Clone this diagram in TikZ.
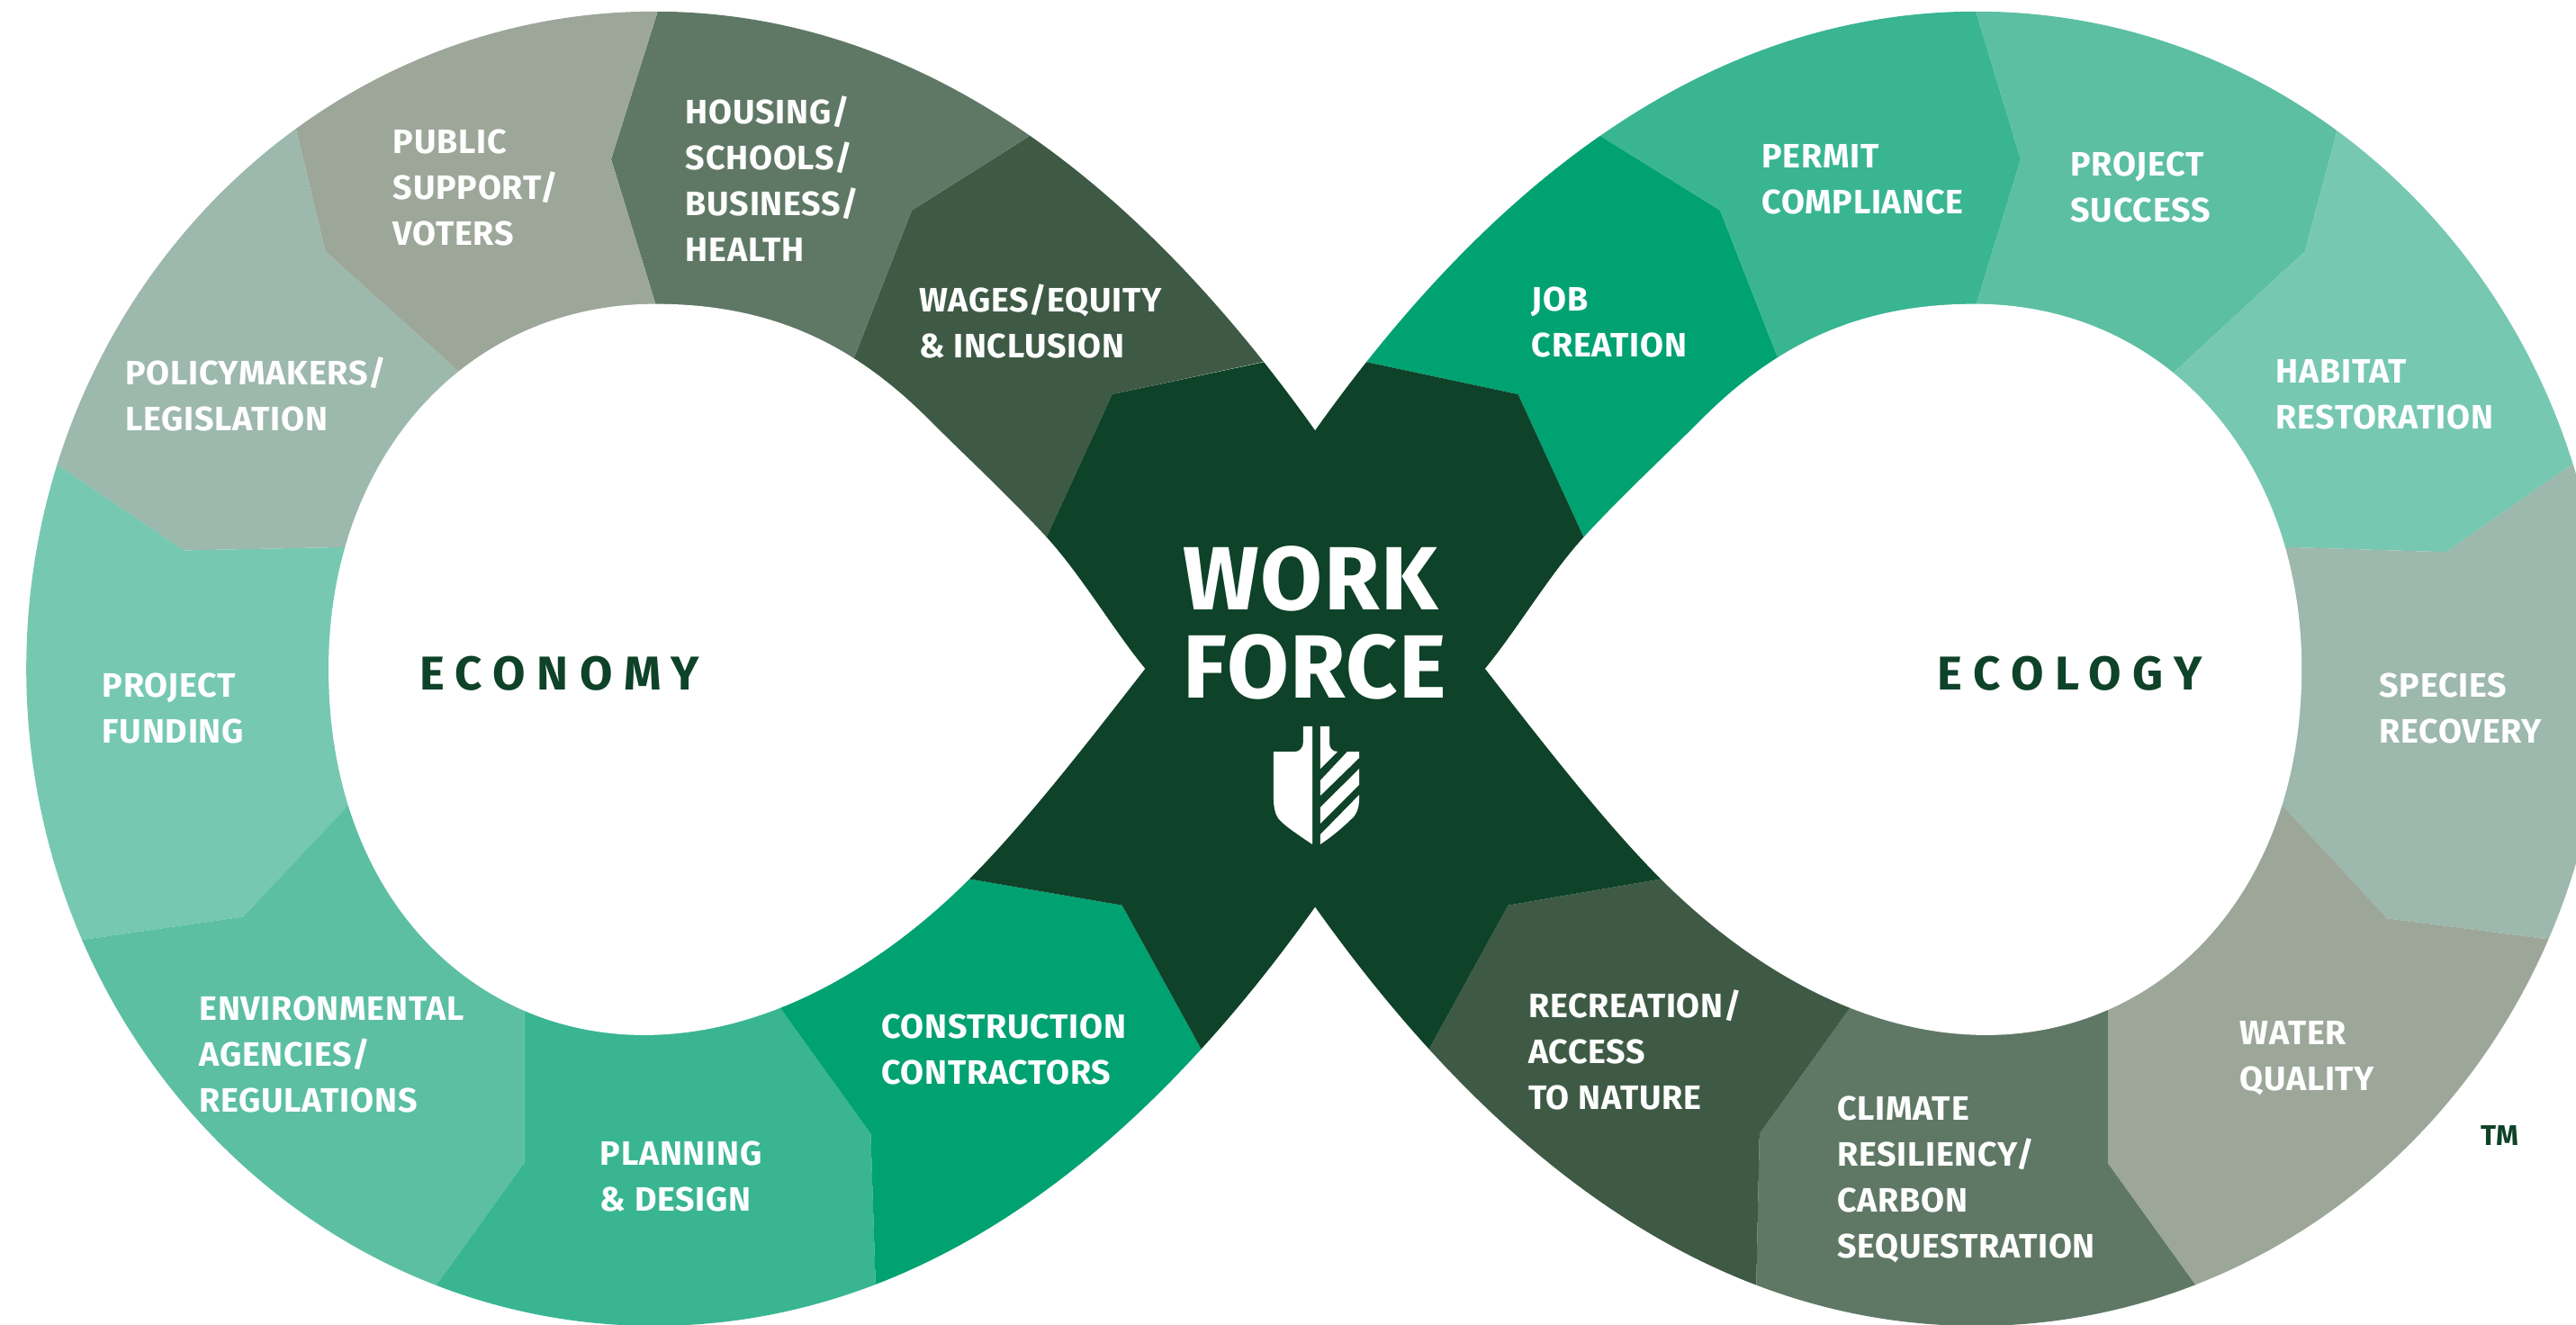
\documentclass[tikz,border=0pt]{standalone}
\usepackage{fontspec}
\newfontfamily\segfont[LetterSpace=2]{Fira Sans}
\newfontfamily\lobefont[LetterSpace=24]{Fira Sans}
\newfontfamily\wffont[LetterSpace=1.5]{Fira Sans}
\definecolor{cdark}{HTML}{0E4229}
\definecolor{cwages}{HTML}{3E5A45}
\definecolor{chousing}{HTML}{5F7865}
\definecolor{cpublic}{HTML}{9CA79A}
\definecolor{cpolicy}{HTML}{9DB8AC}
\definecolor{cfunding}{HTML}{76C8B1}
\definecolor{cenv}{HTML}{5CBFA2}
\definecolor{cplanning}{HTML}{39B592}
\definecolor{cbuild}{HTML}{00A272}
\tikzset{
  seg/.style={inner sep=0, anchor=west, align=left, text=white, font=\segfont\bfseries\fontsize{10.7}{14.5}\selectfont},
  lobe/.style={inner sep=0, anchor=west, text=cdark, font=\lobefont\bfseries\fontsize{15}{18}\selectfont}
}
\begin{document}
\begin{tikzpicture}[x=.018253cm,y=-.018253cm]
\useasboundingbox (0,0) rectangle (1568,806);
\clip (0,0) rectangle (1568,806);
\begin{scope}
\clip (800.5,262) .. controls (702,123.5) and (570,7) .. (398,7) .. controls (187,7) and (16,186) .. (16,407) .. controls (16,628) and (187,807) .. (398,807) .. controls (570,807) and (702,690.5) .. (800.5,552)
  .. controls (899,690.5) and (1031,807) .. (1203,807) .. controls (1414,807) and (1585,628) .. (1585,407) .. controls (1585,186) and (1414,7) .. (1203,7) .. controls (1031,7) and (899,123.5) .. (800.5,262) -- cycle;
\fill[cwages] (690,43) -- (628,82) -- (555,128) -- (519,220) -- (490,280) -- (600,350) -- (637,327) -- (677,240) -- (770,220) -- (790,216) -- cycle;
\fill[chousing] (402,-20) -- (400,8) -- (372,97) -- (399,185) -- (399,215) -- (505,256) -- (519,220) -- (555,128) -- (628,82) -- (690,43) -- cycle;
\fill[cpublic] (170,40) -- (180,78) -- (198,153) -- (278,225) -- (310,255) -- (399,215) -- (399,185) -- (372,97) -- (400,8) -- (402,-20) -- cycle;
\fill[cpolicy] (-10,253) -- (35,283) -- (112,335) -- (212,333) -- (260,332) -- (310,255) -- (278,225) -- (198,153) -- (180,78) -- (170,40) -- cycle;
\fill[cfunding] (-10,581) -- (50,572) -- (148,558) -- (212,490) -- (250,450) -- (260,332) -- (212,333) -- (112,335) -- (35,283) -- (-10,253) -- cycle;
\fill[cenv] (240,818) -- (265,783) -- (319,708) -- (319,615) -- (319,580) -- (250,450) -- (212,490) -- (148,558) -- (50,572) -- (-10,581) -- cycle;
\fill[cplanning] (534,830) -- (533,783) -- (530,690) -- (476,615) -- (450,578) -- (319,580) -- (319,615) -- (319,708) -- (265,783) -- (240,818) -- cycle;
\fill[cbuild] (745,665) -- (732,640) -- (683,551) -- (590,535) -- (560,530) -- (450,578) -- (476,615) -- (530,690) -- (533,783) -- (534,830) -- cycle;
\fill[cbuild] (811,216) -- (830,220) -- (924,240) -- (964,327) -- (981,365) -- (1097,256) -- (1083,220) -- (1047,128) -- (973,82) -- (911,43) -- cycle;
\fill[cplanning] (911,43) -- (973,82) -- (1047,128) -- (1083,220) -- (1097,256) -- (1203,215) -- (1203,185) -- (1230,97) -- (1203,8) -- (1200,-20) -- cycle;
\fill[cenv] (1200,-20) -- (1203,8) -- (1230,97) -- (1203,185) -- (1203,215) -- (1290,255) -- (1325,225) -- (1403,153) -- (1423,78) -- (1433,40) -- cycle;
\fill[cfunding] (1433,40) -- (1423,78) -- (1403,153) -- (1325,225) -- (1290,255) -- (1340,332) -- (1392,333) -- (1489,336) -- (1568,281) -- (1620,245) -- cycle;
\fill[cpolicy] (1620,245) -- (1568,281) -- (1489,336) -- (1392,333) -- (1340,332) -- (1350,450) -- (1389,490) -- (1453,559) -- (1554,572) -- (1620,581) -- cycle;
\fill[cpublic] (1620,581) -- (1554,572) -- (1453,559) -- (1389,490) -- (1350,450) -- (1283,580) -- (1283,615) -- (1283,708) -- (1337,783) -- (1362,818) -- cycle;
\fill[chousing] (1362,818) -- (1337,783) -- (1283,708) -- (1283,615) -- (1283,580) -- (1150,578) -- (1125,615) -- (1071,690) -- (1069,783) -- (1068,830) -- cycle;
\fill[cwages] (1068,830) -- (1069,783) -- (1071,690) -- (1125,615) -- (1150,578) -- (1041,530) -- (1011,535) -- (918,551) -- (869,640) -- (855,665) -- cycle;
\fill[cdark] (790,216) -- (677,240) -- (637,327) -- (620,365) -- (560,530) -- (590,535) -- (683,551) -- (732,640) -- (745,665) -- (855,665) -- (869,640) -- (918,551) -- (1011,535) -- (1041,530) -- (981,365) -- (964,327) -- (924,240) -- (830,220) -- (811,216) -- cycle;
\end{scope}
\fill[white] (697,407) .. controls (678,384) and (658,350) .. (637,327) .. controls (612,300) and (590,280) .. (565,255) .. controls (520,210) and (470,185) .. (399,185) .. controls (284,185) and (200,278) .. (200,407) .. controls (200,545) and (287,630) .. (392,630) .. controls (470,630) and (540,585) .. (590,535) .. controls (625,500) and (665,448) .. (697,407) -- cycle;
\fill[white] (904,407) .. controls (923,384) and (943,350) .. (964,327) .. controls (989,300) and (1011,280) .. (1036,255) .. controls (1081,210) and (1131,185) .. (1202,185) .. controls (1317,185) and (1401,278) .. (1401,407) .. controls (1401,545) and (1314,630) .. (1209,630) .. controls (1131,630) and (1061,585) .. (1011,535) .. controls (976,500) and (936,448) .. (904,407) -- cycle;
\fill[white] (798.8,442.1) -- (793.3,442.1) -- (793.3,451.4) .. controls (793.3,455) and (791,457.5) .. (788.4,457.5) -- (775.2,457.5) -- (775.2,485.4) .. controls (775.2,491) and (776,495) .. (778,498) .. controls (781,502) and (790,508) .. (798.8,513.9) -- cycle;
\fill[white] (803.7,442.1) -- (809.2,442.1) -- (809.2,452.5) .. controls (809.2,455) and (811,457.5) .. (814.1,457.5) -- (803.7,467.9) -- cycle;
\fill[white] (803.7,475) -- (820.1,457.5) -- (827.3,457.5) -- (827.3,461.3) -- (803.7,484.3) -- cycle;
\fill[white] (803.7,491.4) -- (827.3,467.9) -- (827.3,477.7) -- (803.7,501.3) -- cycle;
\fill[white] (803.7,507.9) -- (827.3,483.8) -- (827.3,486.5) .. controls (827.3,491) and (826,496) .. (822,499) .. controls (818,503) and (811,509) .. (803.7,513.9) -- cycle;
\node[inner sep=0, anchor=west, align=left, text=white, font=\wffont\bfseries\fontsize{28.4}{28}\selectfont] (wf0) at (720,379) {WORK\\FORCE};
\node[lobe] (lobe0) at (255,410) {ECONOMY};
\node[lobe] (lobe1) at (1179,410) {ECOLOGY};
\node[seg] (seg0) at (62,431) {PROJECT\\FUNDING};
\node[seg] (seg1) at (76,240) {POLICYMAKERS/\\LEGISLATION};
\node[seg] (seg2) at (239,114) {PUBLIC\\SUPPORT/\\VOTERS};
\node[seg] (seg3) at (417,109) {HOUSING/\\SCHOOLS/\\BUSINESS/\\HEALTH};
\node[seg] (seg4) at (559,195.5) {WAGES/EQUITY\\\& INCLUSION};
\node[seg] (seg5) at (121,642) {ENVIRONMENTAL\\AGENCIES/\\REGULATIONS};
\node[seg] (seg6) at (365,716) {PLANNING\\\& DESIGN};
\node[seg] (seg7) at (536,639) {CONSTRUCTION\\CONTRACTORS};
\node[seg] (seg8) at (932,196) {JOB\\CREATION};
\node[seg] (seg9) at (1072,109) {PERMIT\\COMPLIANCE};
\node[seg] (seg10) at (1260,114) {PROJECT\\SUCCESS};
\node[seg] (seg11) at (1385,240) {HABITAT\\RESTORATION};
\node[seg] (seg12) at (1448,431) {SPECIES\\RECOVERY};
\node[seg] (seg13) at (1363,644) {WATER\\QUALITY};
\node[seg] (seg14) at (1118,718) {CLIMATE\\RESILIENCY/\\CARBON\\SEQUESTRATION};
\node[seg] (seg15) at (930,639) {RECREATION/\\ACCESS\\TO NATURE};
\node[inner sep=0, anchor=west, text=cdark, font=\segfont\bfseries\fontsize{9}{11}\selectfont] (tm0) at (1510,691) {TM};
\end{tikzpicture}
\end{document}
